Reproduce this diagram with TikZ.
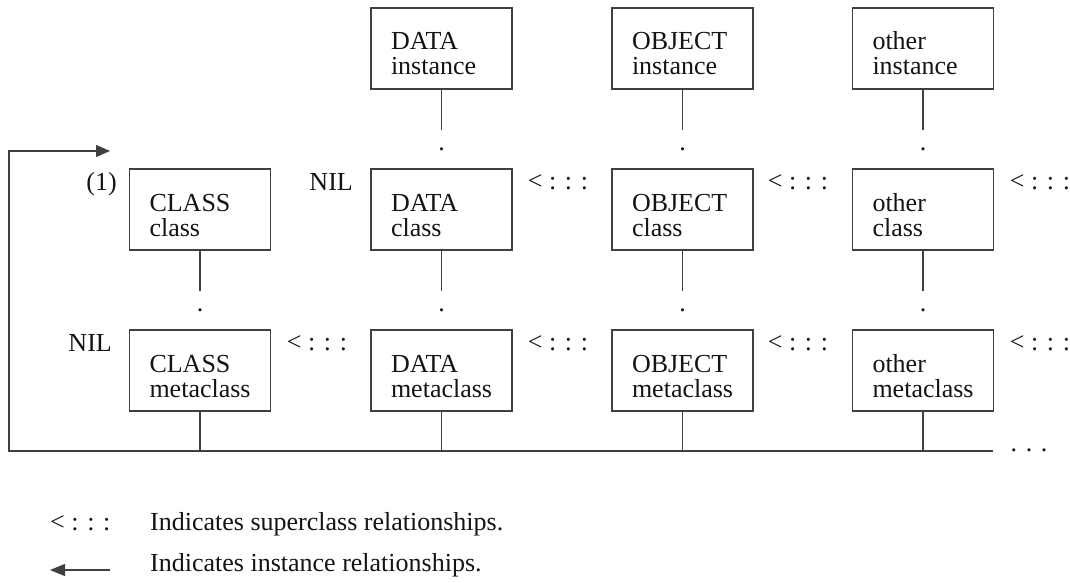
\documentclass[tikz,border=0pt]{standalone}
\usepackage{fontspec}
\setmainfont{Liberation Serif}
\usetikzlibrary{arrows.meta,calc}

\newcommand{\diafont}{\fontsize{26}{25}\selectfont}

\begin{document}
\begin{tikzpicture}[
  x=1pt, y=-1pt,
  every node/.style={text=black!92, font=\diafont},
  line/.style={draw=black!75, line width=1.15pt},
  clsbox/.style={draw=black!75, line width=1.15pt, text width=101pt, align=left,
    inner xsep=20pt, inner ysep=0pt, text height=42pt, text depth=39pt},
  tag/.style={inner sep=0pt},
  dotmark/.style={inner sep=0pt, anchor=base},
  tri/.style={-{Triangle[length=14pt,width=12pt]}},
]
\useasboundingbox (0,0) rectangle (1070,583);

% instance row
\node[clsbox] (di) at (441.5,48.5) {DATA\\instance};
\node[clsbox] (oi) at (682.5,48.5) {OBJECT\\instance};
\node[clsbox] (xi) at (923,48.5)   {other\\instance};

% class row
\node[clsbox] (cc) at (200,209.5)   {CLASS\\class};
\node[clsbox] (dc) at (441.5,209.5) {DATA\\class};
\node[clsbox] (oc) at (682.5,209.5) {OBJECT\\class};
\node[clsbox] (xc) at (923,209.5)   {other\\class};

% metaclass row
\node[clsbox] (cm) at (200,370.5)   {CLASS\\metaclass};
\node[clsbox] (dm) at (441.5,370.5) {DATA\\metaclass};
\node[clsbox] (om) at (682.5,370.5) {OBJECT\\metaclass};
\node[clsbox] (xm) at (923,370.5)   {other\\metaclass};

% instance-of stubs with their trailing dots
\foreach \n in {di,oi,xi,cc,dc,oc,xc} {
  \draw[line] (\n.south) -- ++(0,40) coordinate (\n-stub);
  \node[dotmark] (\n-dot) at ($(\n.south)+(0,60.5)$) {.};
}

% side labels
\node[tag, anchor=base east] (one)  at (117,190) {(1)};
\node[tag, anchor=base east] (nilu) at (353,190) {NIL};
\node[tag, anchor=base east] (nill) at (112,351) {NIL};

% superclass markers
\foreach \x/\nm in {558/s1,798/s2,1040/s3} {
  \node[tag, anchor=base] (u\nm) at (\x,189) {< : : :};
}
\foreach \x/\nm in {317/s0,558/s1,798/s2,1040/s3} {
  \node[tag, anchor=base] (l\nm) at (\x,350) {< : : :};
}

% bus under the metaclasses, looping back to the top
\coordinate (busR) at (993,451);
\coordinate (busL) at (9,451);
\coordinate (tip)  at (110,151);
\foreach \n in {cm,dm,om,xm} {
  \draw[line] (\n.south) -- (\n.south |- busR);
}
\draw[line, tri] (busR) -- (busL) |- (tip);
\node[tag, anchor=base] (more) at (1029,451) {. . .};

% legend
\node[tag, anchor=base west] (legsup) at (50,530.5) {< : : :};
\node[tag, anchor=base west] (legsuptxt) at (150,530.5) {Indicates superclass relationships.};
\coordinate (legtail) at (110,570);
\coordinate (legtip)  at (50,570);
\draw[line, -{Triangle[length=15pt,width=12pt]}] (legtail) -- (legtip);
\node[tag, anchor=base west] (leginstxt) at (150,571.5) {Indicates instance relationships.};
\end{tikzpicture}
\end{document}
